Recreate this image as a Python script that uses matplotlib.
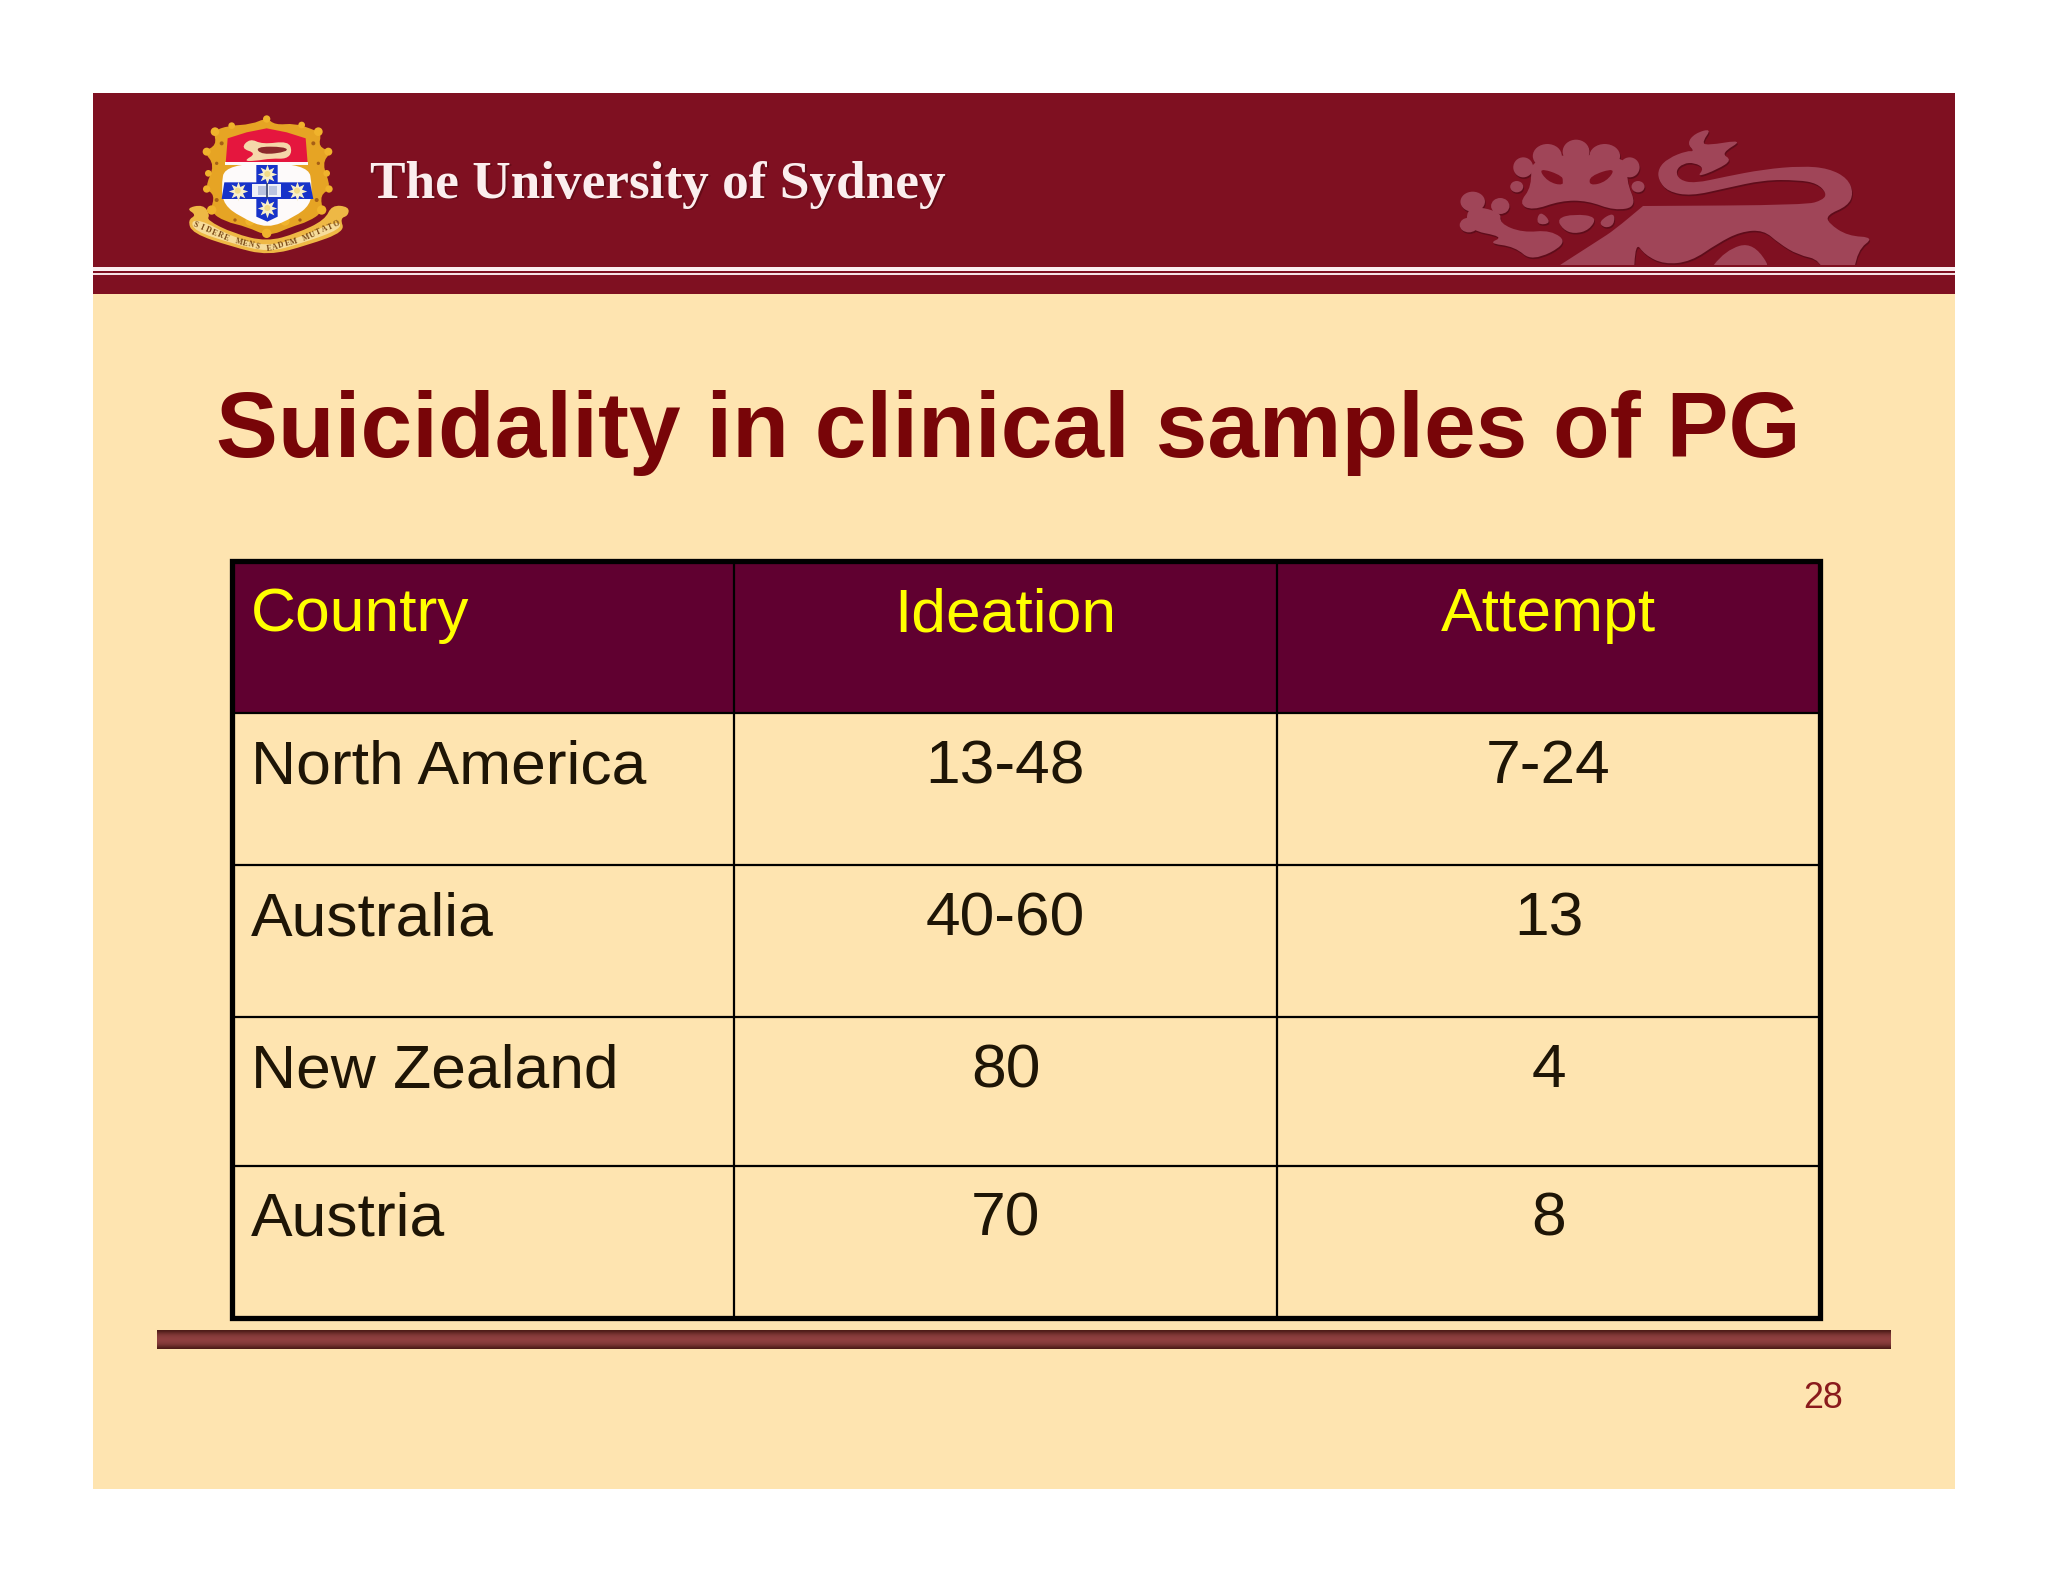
import numpy as np
import matplotlib
matplotlib.use("Agg")
import matplotlib.pyplot as plt
from matplotlib.patches import PathPatch, Rectangle, Ellipse
from matplotlib.path import Path

# table content
columns = ["Country", "Ideation", "Attempt"]
countries = ["North America", "Australia", "New Zealand", "Austria"]
ideation = ["13-48", "40-60", "80", "70"]
attempt = ["7-24", "13", "4", "8"]
title = "Suicidality in clinical samples of PG"
banner_text = "The University of Sydney"
motto = "SIDERE MENS EADEM MUTATO"
page_no = "28"

# layout in pixels
col_edges = [232, 734, 1277, 1820]
row_edges = [561, 713, 865, 1017, 1166, 1318]

BAND = "#7f1021"
CREAM = "#fee4b0"
LION = "#a04558"
GOLD = "#e6a424"

plt.rcParams["font.family"] = ["Liberation Sans", "DejaVu Sans"]

fig = plt.figure(figsize=(20.48, 15.82), dpi=100, facecolor="white")
ax = fig.add_axes([0, 0, 1, 1])
ax.set_xlim(0, 2048)
ax.set_ylim(1582, 0)
ax.axis("off")


def rect(x0, y0, x1, y1, color, z=1):
    ax.add_patch(Rectangle((x0, y0), x1 - x0, y1 - y0, fc=color, ec="none", zorder=z))


def smooth_path(pts):
    # closed outline rounded with quadratic curves through the edge midpoints
    pts = np.asarray(pts, dtype=float)
    mids = (pts + np.roll(pts, -1, axis=0)) / 2
    verts = [mids[-1]]
    codes = [Path.MOVETO]
    for i in range(len(pts)):
        verts += [pts[i], mids[i]]
        codes += [Path.CURVE3, Path.CURVE3]
    return Path(verts, codes)


# slide background and banner
rect(93, 93, 1955, 1489, CREAM)
rect(93, 93, 1955, 294, BAND)
rect(93, 267, 1955, 270.5, "#fbeef0", 2)
rect(93, 273, 1955, 275, "#f6dfe3", 2)

lion_clip = Rectangle((93, 93), 1862, 171.5, transform=ax.transData)


# lion watermark, points measured on a stretched crop
def lp(pts):
    return [(1400 + x / 2.613, 80 + y / 3) for x, y in pts]


def lion_poly(pts, color=LION, z=3, shadow=True):
    path = smooth_path(lp(pts))
    if shadow:
        s = PathPatch(path.transformed(matplotlib.transforms.Affine2D().translate(0.8, 1.6)),
                      fc="#5e0c1a", ec="none", zorder=z - 0.5)
        ax.add_patch(s)
        s.set_clip_path(lion_clip)
    p = PathPatch(path, fc=color, ec="none", zorder=z)
    ax.add_patch(p)
    p.set_clip_path(lion_clip)


def lion_blob(x, y, rx, ry, color=LION, z=3):
    cx, cy = 1400 + x / 2.613, 80 + y / 3
    ax.add_patch(Ellipse((cx + 0.8, cy + 1.6), 2 * rx / 2.613, 2 * ry / 3, fc="#5e0c1a", ec="none", zorder=z - 0.5))
    ax.add_patch(Ellipse((cx, cy), 2 * rx / 2.613, 2 * ry / 3, fc=color, ec="none", zorder=z))


lion_poly([(330, 620), (520, 480), (560, 450), (635, 378), (635, 378), (1060, 375), (1105, 360), (1115, 340),
           (1090, 310), (1040, 300), (950, 300), (850, 325), (760, 348), (700, 335), (675, 300), (675, 265),
           (700, 235), (750, 212), (770, 215), (750, 190), (770, 160), (815, 145), (790, 185), (800, 197),
           (900, 178), (838, 220), (868, 240), (830, 268), (775, 292), (795, 265), (770, 248), (740, 250),
           (720, 272), (730, 300), (770, 310), (850, 290), (950, 268), (1050, 258), (1120, 265), (1170, 295),
           (1185, 340), (1170, 378), (1115, 405), (1120, 430), (1170, 468), (1240, 472), (1195, 510),
           (1180, 620), (1115, 620), (1100, 540), (1040, 525), (990, 490), (950, 450), (890, 455), (830, 490),
           (760, 545), (690, 553), (640, 525), (615, 485), (610, 620)])
lion_poly([(790, 600), (850, 510), (925, 485), (985, 600)])
# mane and face
for bx, by, rx, ry in [(385, 228, 38, 36), (460, 215, 35, 36), (535, 228, 40, 36), (322, 262, 26, 30),
                       (600, 262, 26, 30), (305, 320, 17, 17), (622, 320, 17, 17), (190, 365, 32, 30),
                       (262, 378, 24, 24), (180, 435, 24, 22)]:
    lion_blob(bx, by, rx, ry)
lion_poly([(340, 225), (600, 225), (590, 300), (620, 380), (560, 392), (490, 362), (420, 362), (345, 392),
           (310, 370), (345, 320)])
lion_poly([(360, 262), (428, 288), (428, 318), (385, 305)], BAND, shadow=False)
lion_poly([(495, 288), (565, 262), (540, 305), (495, 318)], BAND, shadow=False)
lion_poly([(425, 250), (495, 250), (495, 335), (470, 352), (440, 352), (425, 335)])
lion_poly([(365, 390), (398, 430), (355, 435)])
lion_poly([(410, 415), (455, 402), (515, 410), (495, 450), (455, 462), (425, 448)])
lion_poly([(518, 425), (560, 395), (560, 435), (535, 445)])
# paw and foreleg
lion_poly([(175, 375), (265, 395), (260, 430), (320, 458), (395, 450), (440, 490), (345, 545), (300, 500),
           (230, 490), (272, 470), (175, 450)])


# crest, points measured on a 3x crop
def cx(x):
    return 175 + x / 3


def cy(y):
    return 105 + y / 3


def crest_poly(pts, color, z=4, smooth=True):
    pts = [(cx(x), cy(y)) for x, y in pts]
    if smooth:
        path = smooth_path(pts)
    else:
        path = Path(pts + [pts[0]], closed=True)
    ax.add_patch(PathPatch(path, fc=color, ec="none", zorder=z))


def crest_blob(x, y, r, color, z=4):
    ax.add_patch(Ellipse((cx(x), cy(y)), 2 * r / 3, 2 * r / 3, fc=color, ec="none", zorder=z))


# scroll, under the mantling
crest_poly([(32, 310), (85, 298), (105, 330), (95, 345), (175, 385), (275, 410), (365, 385), (450, 345),
            (470, 300), (522, 305), (520, 332), (495, 340), (510, 380), (400, 420), (280, 452), (170, 425),
            (52, 385), (38, 345), (65, 330)], "#eeb845", 3)
crest_poly([(48, 345), (90, 350), (170, 395), (275, 425), (370, 400), (490, 345), (500, 372), (380, 415),
            (280, 442), (170, 415), (58, 378)], "#f6dc9a", 3.5)
# gold mantling with lobes round the shield
crest_poly([(275, 38), (300, 60), (360, 55), (410, 72), (440, 85), (430, 125), (470, 140), (440, 175), (470, 250),
            (435, 270), (445, 320), (400, 350), (350, 365), (280, 395), (215, 365), (150, 350), (105, 320),
            (120, 270), (88, 250), (120, 180), (85, 140), (125, 120), (115, 78), (160, 62), (230, 58)], GOLD, 4)
for bx, by, r in [(120, 80, 13), (430, 80, 13), (95, 140, 12), (460, 140, 12), (100, 205, 10), (455, 205, 10),
                  (95, 252, 11), (462, 252, 11), (110, 315, 14), (440, 315, 14), (170, 62, 10), (380, 60, 10),
                  (275, 42, 11), (225, 348, 14), (330, 348, 14), (275, 385, 14)]:
    crest_blob(bx, by, r, "#f0b32c", 4)
# scrollwork shadows on the gold
for bx, by, r in [(140, 115, 6), (415, 115, 6), (125, 175, 5), (430, 175, 5), (125, 285, 6), (425, 285, 6),
                  (180, 345, 5), (375, 345, 5)]:
    crest_blob(bx, by, r, "#a65f16", 4.5)
# shield
crest_poly([(158, 100), (215, 82), (275, 70), (335, 82), (392, 100), (398, 175), (152, 175)], "#e5163e", 5,
           smooth=False)
crest_poly([(150, 175), (400, 175), (412, 250), (405, 300), (360, 335), (277, 372), (195, 335), (148, 300),
            (138, 250)], "#fdfafa", 5)
rect(cx(150), cy(172), cx(400), cy(180), "#fdfafa", 5)
# lion passant in the chief
crest_poly([(197, 130), (225, 100), (262, 118), (340, 108), (352, 140), (335, 162), (290, 160), (240, 168),
            (205, 168), (245, 145)], "#f5d8aa", 6)
crest_poly([(240, 125), (330, 125), (340, 140), (260, 150)], "#8c2a2c", 7)
# blue cross with estoiles and book
crest_poly([(244, 180), (308, 180), (308, 232), (405, 232), (415, 282), (308, 282), (308, 335), (277, 350),
            (244, 335), (244, 282), (140, 282), (148, 232), (244, 232)], "#1733c9", 6, smooth=False)
for sx, sy in [(277, 207), (188, 257), (366, 257), (277, 309)]:
    ax.plot(cx(sx), cy(sy), marker=(8, 1, 0), ms=14, color="#f7efc8", mec="none", zorder=7)
    crest_blob(sx, sy, 9, "#f2dc8a", 8)
crest_poly([(232, 236), (318, 236), (318, 276), (232, 276)], "#eef0f6", 7, smooth=False)
crest_poly([(248, 242), (273, 242), (273, 270), (248, 270)], "#b9c3df", 8, smooth=False)
crest_poly([(282, 242), (307, 242), (307, 270), (282, 270)], "#b9c3df", 8, smooth=False)
ax.plot([cx(277), cx(277)], [cy(236), cy(276)], color="#30406f", lw=1.2, zorder=9)

# motto, one letter at a time along the curve of the scroll
arc_x = [62, 170, 275, 370, 485]
arc_y = [360, 405, 433, 407, 358]
letter_x = np.linspace(arc_x[0], arc_x[-1], len(motto))
letter_y = np.interp(letter_x, arc_x, arc_y)
slopes = np.gradient(letter_y, letter_x)
for ch, lx, ly, sl in zip(motto, letter_x, letter_y, slopes):
    ax.text(cx(lx), cy(ly), ch, fontsize=5.6, family="Liberation Serif", weight="bold", color="#7a4a18",
            ha="center", va="center", rotation=-np.degrees(np.arctan(sl)), rotation_mode="anchor", zorder=8)

# banner name, shadow first
ax.text(372, 199.5, banner_text, family="Liberation Serif", weight="bold", fontsize=38.3, color="#5a0a14",
        alpha=0.7, ha="left", va="baseline", zorder=3)
ax.text(370, 198, banner_text, family="Liberation Serif", weight="bold", fontsize=38.3, color="#fbeeee",
        ha="left", va="baseline", zorder=4)

# title
ax.text(216, 457, title, fontsize=66.9, weight="bold", color="#780508", ha="left", va="baseline", zorder=3)

# table
rect(col_edges[0], row_edges[0], col_edges[-1], row_edges[1], "#600030", 2)
for x in col_edges[1:-1]:
    ax.plot([x, x], [row_edges[0], row_edges[-1]], color="black", lw=1.6, zorder=4, solid_capstyle="butt")
for y in row_edges[1:-1]:
    ax.plot([col_edges[0], col_edges[-1]], [y, y], color="black", lw=1.6, zorder=4, solid_capstyle="butt")
ax.add_patch(Rectangle((col_edges[0], row_edges[0]), col_edges[-1] - col_edges[0], row_edges[-1] - row_edges[0],
                       fc="none", ec="black", lw=3.8, joinstyle="miter", zorder=5))

col_x = [251, (col_edges[1] + col_edges[2]) / 2, (col_edges[2] + col_edges[3]) / 2]
aligns = ["left", "center", "center"]
for j, label in enumerate(columns):
    ax.text(col_x[j], row_edges[0] + 70, label, fontsize=44.9, color="#ffff00", ha=aligns[j], va="baseline", zorder=6)
for i in range(len(countries)):
    base = row_edges[i + 1] + 70
    for j, val in enumerate([countries[i], ideation[i], attempt[i]]):
        ax.text(col_x[j], base, val, fontsize=44.9, color="#1e1506", ha=aligns[j], va="baseline", zorder=6)

# footer rule with a soft vertical shading
shade = np.array([0.0, 0.35, 0.65, 0.85, 0.95, 1.0, 0.95, 0.85, 0.65, 0.35, 0.0]).reshape(-1, 1)
dark = np.array(matplotlib.colors.to_rgb("#4e1c18"))
light = np.array(matplotlib.colors.to_rgb("#8f4040"))
rgb = dark + (light - dark) * shade[..., None]
ax.imshow(rgb, extent=(157, 1891, 1349, 1330), aspect="auto", interpolation="bilinear", zorder=3)
ax.set_xlim(0, 2048)
ax.set_ylim(1582, 0)

ax.text(1803, 1408, page_no, fontsize=25.8, color="#8a1a1c", ha="left", va="baseline", zorder=3)

fig.savefig("out.png", dpi=100, facecolor="white")
